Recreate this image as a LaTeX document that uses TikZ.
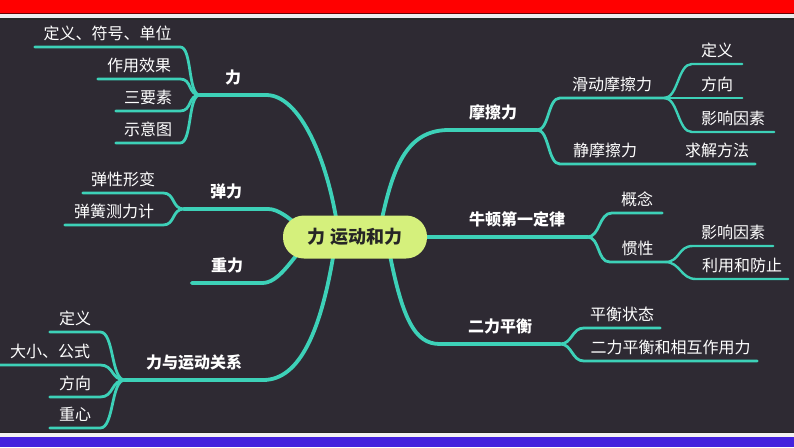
\documentclass[tikz,border=0pt]{standalone}
\usepackage{fontspec}
\usepackage{tikz}
\usetikzlibrary{positioning, calc}
\newfontfamily\cjk{Noto Sans CJK SC}
\definecolor{BgDark}{HTML}{2E2A33}
\definecolor{BranchTeal}{HTML}{3DD1B8}
\definecolor{HubGreen}{HTML}{D5F07C}
\definecolor{BarRed}{HTML}{FF0000}
\definecolor{BarBlue}{HTML}{4422DD}
\pgfdeclarelayer{back}
\pgfsetlayers{back,main}

\begin{document}
\begin{tikzpicture}[
    x=1pt, y=-1pt,
    leaf/.style={font=\cjk\fontsize{16pt}{18pt}\selectfont, text=white,
      inner sep=0pt, text height=12pt, text depth=7.5pt, anchor=south},
    topic/.style={leaf, font=\cjk\bfseries\fontsize{16pt}{18pt}\selectfont,
      text depth=11pt},
    hub/.style={fill=HubGreen, rounded corners=21pt, minimum width=144pt,
      minimum height=43pt, inner sep=0pt, text=black!85,
      font=\cjk\bfseries\fontsize{18pt}{20pt}\selectfont},
    trunk/.style={draw=BranchTeal, line width=3.8pt, line cap=round},
    twig/.style={draw=BranchTeal, line width=2.8pt, line cap=round},
    tip/.style={draw=BranchTeal, line width=2.4pt, line cap=round}
  ]
    \useasboundingbox (0,0) rectangle (794,447);

    % centre
    \node[hub] (c) at (355,237) {力 运动和力};

    % left topics
    \node[topic, minimum width=66pt]  (li) at (233,95)  {力};
    \node[topic, minimum width=84pt]  (ta) at (226,209) {弹力};
    \node[topic, minimum width=70pt]  (zl) at (227,283) {重力};
    \node[topic, minimum width=138pt] (gx) at (194,380) {力与运动关系};

    \node[leaf, minimum width=145pt] (l1) at (107.5,47) {定义、符号、单位};
    \node[leaf, minimum width=82pt]  (l2) at (139,79)   {作用效果};
    \node[leaf, minimum width=64pt]  (l3) at (148,111)  {三要素};
    \node[leaf, minimum width=64pt]  (l4) at (148,143)  {示意图};

    \node[leaf, minimum width=80pt] (t1) at (123,193) {弹性形变};
    \node[leaf, minimum width=98pt] (t2) at (114,225) {弹簧测力计};

    \node[leaf, minimum width=50pt]  (g1) at (75,332) {定义};
    \node[leaf, minimum width=100pt] (g2) at (50,365) {大小、公式};
    \node[leaf, minimum width=50pt]  (g3) at (75,397) {方向};
    \node[leaf, minimum width=50pt]  (g4) at (75,428) {重心};

    % right topics
    \node[topic, minimum width=88pt]  (mc) at (493,130) {摩擦力};
    \node[topic, minimum width=140pt] (nd) at (517,237) {牛顿第一定律};
    \node[topic, minimum width=120pt] (el) at (500,344) {二力平衡};

    \node[leaf, minimum width=104pt] (m1) at (612,98)  {滑动摩擦力};
    \node[leaf, minimum width=90pt]  (m2) at (605,164) {静摩擦力};
    \node[leaf, minimum width=76pt]  (m3) at (717,164) {求解方法};
    \node[leaf, minimum width=50pt]  (s1) at (717,64)  {定义};
    \node[leaf, minimum width=50pt]  (s2) at (717,98)  {方向};
    \node[leaf, minimum width=82pt]  (s3) at (733,132) {影响因素};

    \node[leaf, minimum width=50pt] (n1) at (637,213)   {概念};
    \node[leaf, minimum width=55pt] (n2) at (637.5,262) {惯性};
    \node[leaf, minimum width=80pt] (p1) at (733,246)   {影响因素};
    \node[leaf, minimum width=92pt] (p2) at (742,279)   {利用和防止};

    \node[leaf, minimum width=76pt]  (e1) at (622,328)   {平衡状态};
    \node[leaf, minimum width=173pt] (e2) at (670.5,361) {二力平衡和相互作用力};

    \begin{pgfonlayer}{back}
      % frame
      \fill[BarRed] (0,0) rectangle (794,13);
      \fill[black!60!red] (0,13) rectangle (794,14);
      \fill[gray!15] (0,14) rectangle (794,18);
      \fill[black!85] (0,18) rectangle (794,20);
      \fill[BgDark] (0,20) rectangle (794,432);
      \fill[black!85] (0,432) rectangle (794,433);
      \fill[gray!10] (0,433) rectangle (794,437);
      \fill[BarBlue] (0,437) rectangle (794,447);

      % trunks
      \draw[trunk] ($(c.center)+(-17,-7)$) .. controls (328,160) and (300,95) .. (li.south east) -- (li.south west);
      \draw[trunk] ($(c.center)+(-50,-5)$) .. controls (290,218) and (278,209) .. (ta.south east) -- (ta.south west);
      \draw[trunk] ($(c.center)+(-50,8)$) .. controls (290,262) and (278,283) .. (zl.south east) -- (zl.south west);
      \draw[trunk] ($(c.center)+(-20,8)$) .. controls (322,330) and (300,380) .. (gx.south east) -- (gx.south west);
      \draw[trunk] ($(c.center)+(25,-9)$) .. controls (392,170) and (405,130) .. (mc.south west) -- (mc.south east);
      \draw[trunk] (c.center) -- (nd.south west) -- (nd.south east);
      \draw[trunk] ($(c.center)+(33,8)$) .. controls (402,320) and (415,344) .. (el.south west) -- (el.south east);
    \end{pgfonlayer}

    % left branches
    \foreach \k in {l1,l2,l3,l4}
      \draw[twig] (li.south west) .. controls +(-12,0) and +(12,0) .. (\k.south east) -- (\k.south west);
    \foreach \k in {t1,t2}
      \draw[twig] (ta.south west) .. controls +(-12,0) and +(12,0) .. (\k.south east) -- (\k.south west);
    \foreach \k in {g1,g2,g3,g4}
      \draw[twig] (gx.south west) .. controls +(-14,0) and +(14,0) .. (\k.south east) -- (\k.south west);

    % right branches
    \draw[twig] (mc.south east) .. controls +(12,0) and +(-12,0) .. (m1.south west) -- (m1.south east);
    \draw[twig] (mc.south east) .. controls +(12,0) and +(-12,0) .. (m2.south west) -- (m2.south east) -- (m3.south west) -- (m3.south east);
    \foreach \k in {s1,s2,s3}
      \draw[tip] (m1.south east) .. controls +(14,0) and +(-14,0) .. (\k.south west) -- (\k.south east);
    \foreach \k in {n1,n2}
      \draw[twig] (nd.south east) .. controls +(13,0) and +(-13,0) .. (\k.south west) -- (\k.south east);
    \foreach \k in {p1,p2}
      \draw[tip] (n2.south east) .. controls +(15,0) and +(-15,0) .. (\k.south west) -- (\k.south east);
    \foreach \k in {e1,e2}
      \draw[twig] (el.south east) .. controls +(12,0) and +(-12,0) .. (\k.south west) -- (\k.south east);
  \end{tikzpicture}
\end{document}
